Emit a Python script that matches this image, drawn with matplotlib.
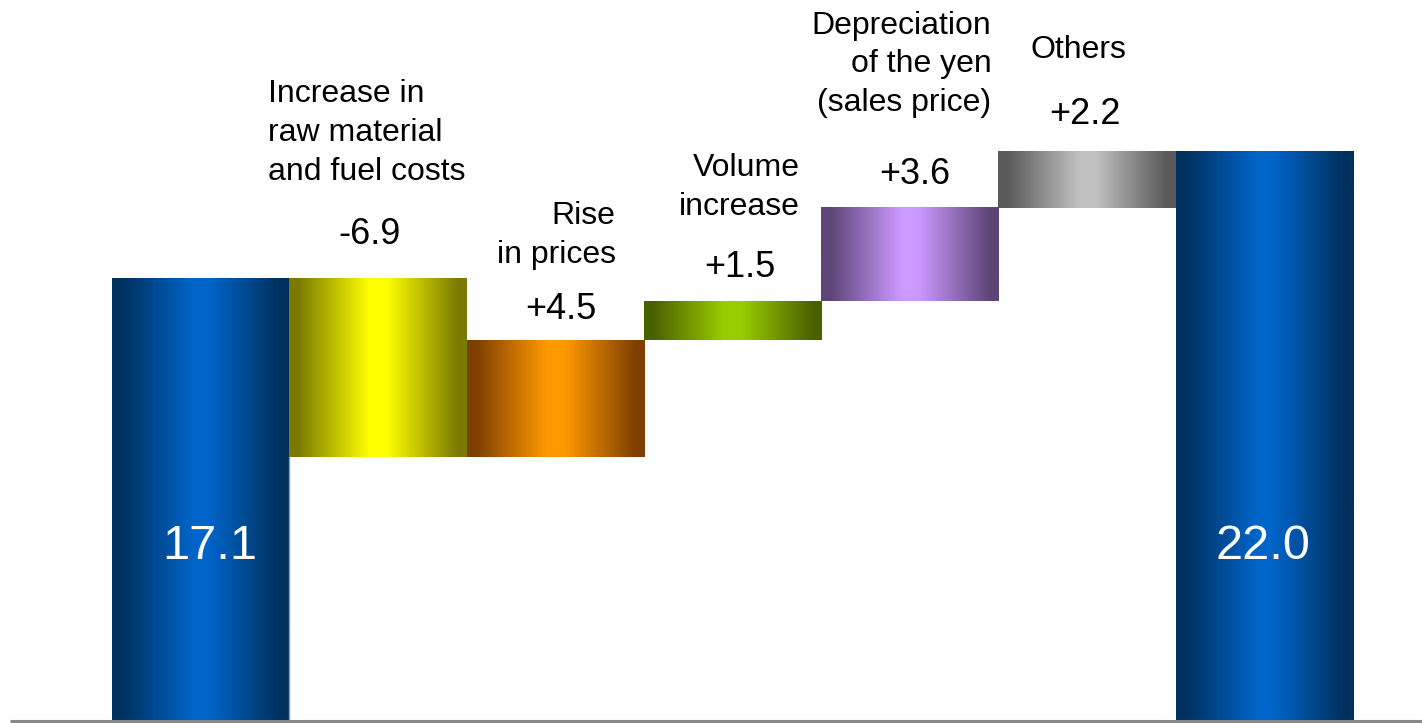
import numpy as np
import matplotlib.pyplot as plt
from matplotlib.colors import LinearSegmentedColormap

plt.rcParams['font.family'] = ['Liberation Sans', 'DejaVu Sans']

# Waterfall data (billion yen)
start_value = 17.1
end_value = 22.0
factor_labels = ["Increase in\nraw material\nand fuel costs",
                 "Rise\nin prices",
                 "Volume\nincrease",
                 "Depreciation\nof the yen\n(sales price)",
                 "Others"]
factor_values = [-6.9, 4.5, 1.5, 3.6, 2.2]

# dark edge / bright centre of each cylinder-shaded bar
bar_shades = [("#00305e", "#0064c8"),
              ("#7a7a00", "#ffff00"),
              ("#7f3f00", "#ff9900"),
              ("#4a6100", "#99cc00"),
              ("#5e4577", "#cc99ff"),
              ("#595959", "#c0c0c0"),
              ("#00305e", "#0064c8")]

# how each factor caption sits: (anchor, x relative to bar, y in value units)
caption_layout = [("left", -0.12, 22.7),
                  ("right", 0.84, 18.75),
                  ("right", 0.88, 20.6),
                  ("right", 0.96, 25.35),
                  ("center", 0.45, 25.9)]
value_shift = [0.45, 0.53, 0.54, 0.53, 0.49]
value_lift = [1.7, 1.2, 1.3, 1.3, 1.4]


def shaded_bar(ax, x0, y0, y1, dark, bright):
    cmap = LinearSegmentedColormap.from_list(
        "cyl", [(0, dark), (0.05, dark), (0.45, bright), (0.55, bright),
                (0.95, dark), (1, dark)])
    grad = np.linspace(0, 1, 256).reshape(1, -1)
    ax.imshow(grad, cmap=cmap, aspect="auto", interpolation="bilinear",
              extent=(x0, x0 + 1, min(y0, y1), max(y0, y1)), zorder=2)


fig = plt.figure(figsize=(14.22, 7.23), dpi=100)
ax = fig.add_axes([0, 0, 1, 1])

# start bar
shaded_bar(ax, 0, 0, start_value, *bar_shades[0])

# floating factor bars
level = start_value
tops = []
for i, v in enumerate(factor_values):
    x0 = i + 1
    new_level = level + v
    shaded_bar(ax, x0, level, new_level, *bar_shades[i + 1])
    tops.append(max(level, new_level))
    if i == 0:
        low_after_first = new_level
    level = new_level

# end bar
shaded_bar(ax, 6, 0, end_value, *bar_shades[6])

# faint edge on the start bar below the first step
ax.plot([1, 1], [0, low_after_first], color="#7f9cbf", lw=1, zorder=3)

# baseline
ax.plot([-0.575, 7.5], [0, 0], color="#888888", lw=2.2, zorder=4,
        solid_capstyle="butt")

for i, (lab, v) in enumerate(zip(factor_labels, factor_values)):
    x0 = i + 1
    ha, dx, y = caption_layout[i]
    ax.text(x0 + dx, y, lab, ha=ha, va="center", fontsize=23,
            linespacing=1.38, color="black")
    ax.text(x0 + value_shift[i], tops[i] + value_lift[i], f"{v:+.1f}",
            ha="center", va="center", fontsize=26, color="black")

ax.text(0.55, 6.75, f"{start_value:.1f}", ha="center", va="center",
        fontsize=35, color="white", zorder=5)
ax.text(6.49, 6.75, f"{end_value:.1f}", ha="center", va="center",
        fontsize=35, color="white", zorder=5)

ax.set_xlim(-0.632, 7.389)
ax.set_ylim(-0.077, 27.84)
ax.axis("off")

fig.savefig("out.png", dpi=100)
